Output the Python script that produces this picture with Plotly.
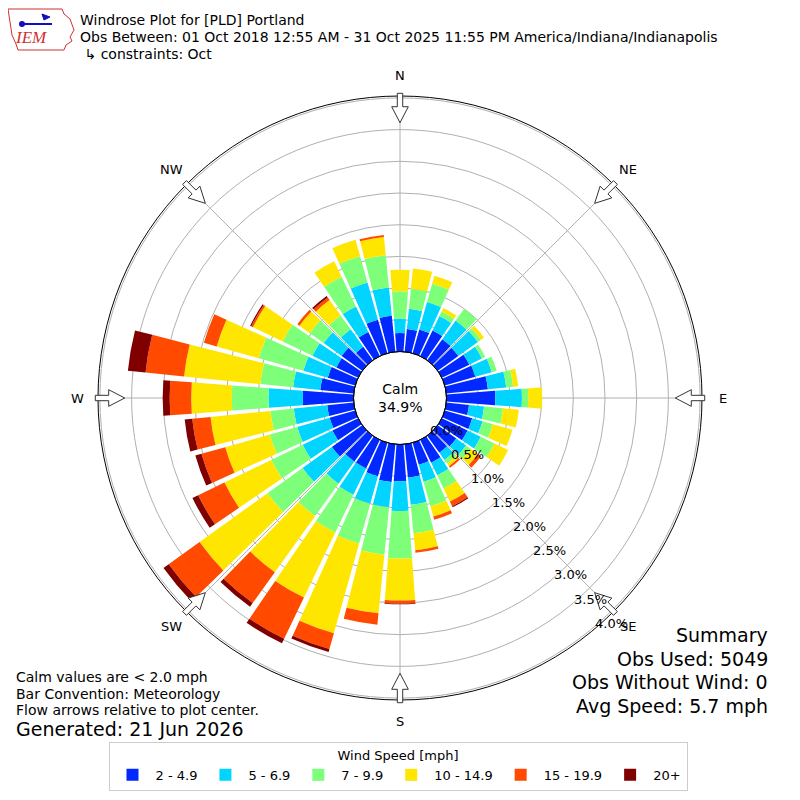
import math
import plotly.graph_objects as go

# Wind direction bins (deg, meteorological convention, 10 deg bins)
directions = list(range(0, 360, 10))

speed_bins = ["2 - 4.9", "5 - 6.9", "7 - 9.9", "10 - 14.9", "15 - 19.9", "20+"]
bin_colors = ["#0028ff", "#00d4ff", "#7dff7a", "#ffe600", "#ff4a00", "#800000"]

pct_2_5 = [0.29, 0.36, 0.39, 0.45, 0.41, 0.40, 0.48, 0.50, 0.66, 0.77,
           0.36, 0.45, 0.45, 0.36, 0.33, 0.40, 0.36, 0.53, 0.58, 0.60,
           0.55, 0.50, 0.50, 0.59, 0.45, 0.42, 0.42, 0.80, 0.53, 0.45,
           0.38, 0.40, 0.26, 0.42, 0.55, 0.57]
pct_5_7 = [0.23, 0.32, 0.45, 0.25, 0.36, 0.38, 0.22, 0.27, 0.29, 0.42,
           0.24, 0.17, 0.23, 0.19, 0.14, 0.22, 0.28, 0.43, 0.47, 0.40,
           0.45, 0.46, 0.43, 0.57, 0.52, 0.53, 0.53, 0.54, 0.43, 0.40,
           0.42, 0.35, 0.34, 0.45, 0.61, 0.45]
pct_7_10 = [0.43, 0.32, 0.30, 0.08, 0.23, 0.06, 0.06, 0.08, 0.11, 0.10,
            0.30, 0.17, 0.24, 0.09, 0.07, 0.23, 0.40, 0.45, 0.75, 0.75,
            0.65, 0.66, 0.63, 0.68, 0.55, 0.45, 0.37, 0.58, 0.52, 0.73,
            0.52, 0.27, 0.27, 0.52, 0.43, 0.51]
pct_10_15 = [0.34, 0.32, 0.13, 0.06, 0.00, 0.06, 0.00, 0.00, 0.08, 0.22,
             0.25, 0.32, 0.24, 0.14, 0.05, 0.23, 0.17, 0.27, 0.66, 0.93,
             1.47, 1.14, 1.09, 1.32, 0.82, 0.73, 0.95, 0.64, 1.21, 0.69,
             0.52, 0.20, 0.30, 0.27, 0.27, 0.29]
pct_15_20 = [0.00, 0.00, 0.00, 0.00, 0.00, 0.00, 0.00, 0.00, 0.00, 0.00,
             0.00, 0.00, 0.00, 0.06, 0.03, 0.08, 0.05, 0.04, 0.05, 0.18,
             0.26, 0.72, 0.60, 0.60, 0.46, 0.39, 0.29, 0.34, 0.61, 0.21,
             0.03, 0.04, 0.05, 0.00, 0.00, 0.03]
pct_20_up = [0.00, 0.00, 0.00, 0.00, 0.00, 0.00, 0.00, 0.00, 0.00, 0.00,
             0.00, 0.00, 0.00, 0.00, 0.00, 0.02, 0.00, 0.00, 0.01, 0.00,
             0.05, 0.08, 0.07, 0.10, 0.10, 0.10, 0.12, 0.11, 0.28, 0.00,
             0.02, 0.00, 0.03, 0.00, 0.00, 0.00]
bin_values = [pct_2_5, pct_5_7, pct_7_10, pct_10_15, pct_15_20, pct_20_up]

r_ticks = [0, 0.5, 1.0, 1.5, 2.0, 2.5, 3.0, 3.5, 4.0]
r_ticktext = ["0.0%", "0.5%", "1.0%", "1.5%", "2.0%", "2.5%", "3.0%", "3.5%", "4.0%"]

compass = ["N", "NE", "E", "SE", "S", "SW", "W", "NW"]
compass_deg = [0, 45, 90, 135, 180, 225, 270, 315]

calm_pct = "34.9%"
title_lines = [
    "Windrose Plot for [PLD] Portland",
    "Obs Between: 01 Oct 2018 12:55 AM - 31 Oct 2025 11:55 PM America/Indiana/Indianapolis",
    " \u21b3 constraints: Oct",
]
notes = ["Calm values are < 2.0 mph", "Bar Convention: Meteorology",
         "Flow arrows relative to plot center."]
generated = "Generated: 21 Jun 2026"
summary = ["Summary", "Obs Used: 5049", "Obs Without Wind: 0", "Avg Speed: 5.7 mph"]

FONT = "DejaVu Sans"
W = H = 800
PAD = 8  # page body margin the figure sits in
CX, CY, R_OUT, R_HOLE = 400, 398, 302, 46.5
R_MAX = 4.03
LABEL_ANGLE = math.radians(49.5)  # radial labels, below the horizontal


def px(x, y):
    # screen pixel -> paper coords
    return (x - PAD) / W, 1 - (y - PAD) / H


def r_pix(v):
    return R_HOLE + v * (R_OUT - R_HOLE) / R_MAX


def label(text, x, y, size=13, xanchor="center", xshift=0, **kw):
    xp, yp = px(x, y)
    return dict(text=text, x=xp, y=yp, xref="paper", yref="paper",
                xanchor=xanchor, yanchor="middle", xshift=xshift,
                showarrow=False, font=dict(size=size, **kw))


fig = go.Figure()
for name, color, vals in zip(speed_bins, bin_colors, bin_values):
    fig.add_trace(go.Barpolar(
        r=vals, theta=directions, name=name, width=8.6,
        marker=dict(color=color, line=dict(width=0)),
    ))

x0, y1 = px(CX - R_OUT, CY - R_OUT)
x1, y0 = px(CX + R_OUT, CY + R_OUT)

fig.update_layout(
    template="none",
    width=W, height=H,
    margin=dict(l=0, r=0, t=0, b=0),
    paper_bgcolor="white",
    font=dict(family=FONT, size=13, color="black"),
    polar=dict(
        domain=dict(x=[x0, x1], y=[y0, y1]),
        hole=R_HOLE / R_OUT,
        bgcolor="white",
        barmode="stack",
        radialaxis=dict(
            range=[0, R_MAX], tickvals=r_ticks, showticklabels=False,
            showline=False, ticks="", gridcolor="#b0b0b0", gridwidth=1,
            layer="above traces",
        ),
        angularaxis=dict(
            rotation=90, direction="clockwise", tickmode="array",
            tickvals=compass_deg, showticklabels=False, ticks="",
            gridcolor="#b0b0b0", gridwidth=1, linecolor="black", linewidth=1,
            layer="above traces",
        ),
    ),
    legend=dict(
        orientation="h", x=px(398, 0)[0], xanchor="center", yanchor="bottom",
        y=px(0, 791)[1],
        title=dict(text="Wind Speed [mph]", side="top center", font=dict(size=13)),
        bordercolor="#cccccc", borderwidth=1, font=dict(size=13),
        itemwidth=36, bgcolor="white",
    ),
)

ann = []
# compass labels
for lab, d in zip(compass, compass_deg):
    a = math.radians(d)
    ann.append(label(lab, CX + 323 * math.sin(a), CY - 323 * math.cos(a)))

# radial percent labels along the lower-right ray
for v, t in zip(r_ticks, r_ticktext):
    rr = r_pix(v)
    ann.append(label(t, CX + rr * math.cos(LABEL_ANGLE),
                     CY + rr * math.sin(LABEL_ANGLE) - 3,
                     xanchor="left", xshift=-2))

# calm value in the hole
ann.append(label("Calm<br>" + calm_pct, CX, CY, size=14))

# header
for i, t in enumerate(title_lines):
    ann.append(label(t, 80, 20 + 17 * i, size=14, xanchor="left", xshift=-2))

# bottom-left notes
for i, t in enumerate(notes):
    ann.append(label(t, 16, 677 + 16.5 * i, size=14, xanchor="left", xshift=-2))
ann.append(label(generated, 16, 729, size=19, xanchor="left", xshift=-2))

# summary text, right aligned
for i, t in enumerate(summary):
    ann.append(label(t, 768, 635 + 23.5 * i, size=19, xanchor="right", xshift=2))

# IEM logo text
ann.append(label("<i>IEM</i>", 31, 38, size=17, family="Liberation Serif",
                 color="#d03030"))
fig.update_layout(annotations=ann)

shapes = []
# inner hole outline
hx0, hy1 = px(CX - R_HOLE, CY - R_HOLE)
hx1, hy0 = px(CX + R_HOLE, CY + R_HOLE)
shapes.append(dict(type="circle", xref="paper", yref="paper", x0=hx0, x1=hx1,
                   y0=hy0, y1=hy1, line=dict(color="black", width=1)))

# hollow flow arrows pointing to the center
arrow_outline = [(0, -2.7), (13.4, -2.7), (13.4, -8.3), (29.4, 0),
                 (13.4, 8.3), (13.4, 2.7), (0, 2.7)]
for d in compass_deg:
    a = math.radians(d)
    dx, dy = math.sin(a), -math.cos(a)
    nx, ny = math.cos(a), math.sin(a)
    pts = []
    for u, v in arrow_outline:
        rr = 304.7 - u
        pts.append(px(CX + rr * dx + v * nx, CY + rr * dy + v * ny))
    path = "M " + " L ".join(f"{x:.5f},{y:.5f}" for x, y in pts) + " Z"
    shapes.append(dict(type="path", path=path, xref="paper", yref="paper",
                       fillcolor="white", line=dict(color="#333333", width=1)))

# IEM logo: state outline and vane
iowa = [(8, 9), (62, 9), (64, 14), (70, 19), (74, 30), (70, 37), (72, 41),
        (66, 45), (64, 50), (18, 50), (16, 44), (12, 35), (10, 22)]
path = "M " + " L ".join("%.5f,%.5f" % px(x, y) for x, y in iowa) + " Z"
shapes.append(dict(type="path", path=path, xref="paper", yref="paper",
                   line=dict(color="#d03030", width=1)))
lx0, ly0 = px(22, 24)
lx1, ly1 = px(52, 24)
shapes.append(dict(type="line", xref="paper", yref="paper", x0=lx0, y0=ly0,
                   x1=lx1, y1=ly1, line=dict(color="#1010c0", width=2)))
vane = [(42, 14), (50, 17), (44, 20)]
path = "M " + " L ".join("%.5f,%.5f" % px(x, y) for x, y in vane) + " Z"
shapes.append(dict(type="path", path=path, xref="paper", yref="paper",
                   fillcolor="#1010c0", line=dict(color="#1010c0", width=1)))
cx0, cy1 = px(19, 21)
cx1, cy0 = px(25, 27)
shapes.append(dict(type="circle", xref="paper", yref="paper",
                   x0=cx0, x1=cx1, y0=cy0, y1=cy1,
                   fillcolor="#1010c0", line=dict(width=0)))
fig.update_layout(shapes=shapes)

fig.write_html("out.html")
